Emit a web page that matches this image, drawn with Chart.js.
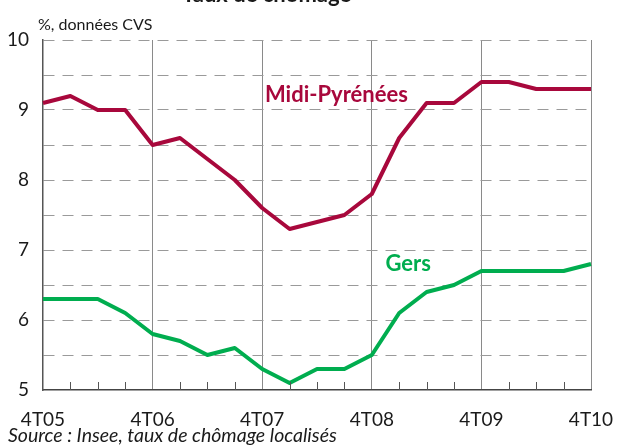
<!DOCTYPE html>
<html>
<head>
<meta charset="utf-8">
<script src="https://cdn.jsdelivr.net/npm/chart.js@4"></script>
<style>
  body { margin: 0; background: #fff; }
  #wrap { position: relative; width: 619px; height: 447px; overflow: hidden; font-family: Lato, "Open Sans", sans-serif; color: #1a1a1a; }
  #chart { position: absolute; left: 0; top: 0; }
  .txt { position: absolute; white-space: nowrap; }
  #title { left: 182px; top: -18px; font-size: 22px; font-weight: bold; line-height: 24px; }
  #unit { left: 38px; top: 14px; font-size: 16px; line-height: 20px; }
  #source { left: 8px; top: 424px; font-size: 19.5px; font-style: italic; line-height: 22px; }
</style>
</head>
<body>
<div id="wrap">
  <canvas id="chart" width="619" height="447"></canvas>
  <div class="txt" id="title">Taux de chômage</div>
  <div class="txt" id="unit">%, données CVS</div>
  <div class="txt" id="source">Source : Insee, taux de chômage localisés</div>
</div>
<script>
const quarters = [
  '4T05', '1T06', '2T06', '3T06',
  '4T06', '1T07', '2T07', '3T07',
  '4T07', '1T08', '2T08', '3T08',
  '4T08', '1T09', '2T09', '3T09',
  '4T09', '1T10', '2T10', '3T10',
  '4T10'
];
const midiPyrenees = [9.1, 9.2, 9.0, 9.0, 8.5, 8.6, 8.3, 8.0, 7.6, 7.3, 7.4, 7.5, 7.8, 8.6, 9.1, 9.1, 9.4, 9.4, 9.3, 9.3, 9.3];
const gers = [6.3, 6.3, 6.3, 6.1, 5.8, 5.7, 5.5, 5.6, 5.3, 5.1, 5.3, 5.3, 5.5, 6.1, 6.4, 6.5, 6.7, 6.7, 6.7, 6.7, 6.8];
const yTicks = [5, 6, 7, 8, 9, 10];

const RED = '#a8083c';
const GREEN = '#00ad4f';
const FONT = 'Lato, "Open Sans", sans-serif';

// small quarter ticks standing up from the x axis, plus the series names
const extras = {
  id: 'extras',
  afterDatasetsDraw(chart) {
    const { ctx, scales: { x, y } } = chart;
    ctx.save();
    ctx.strokeStyle = '#555';
    ctx.lineWidth = 1;
    quarters.forEach((q, i) => {
      if (i % 4 === 0) return;
      const px = Math.round(x.getPixelForValue(i)) + 0.5;
      ctx.beginPath();
      ctx.moveTo(px, y.bottom);
      ctx.lineTo(px, y.bottom - 8);
      ctx.stroke();
    });
    ctx.font = 'bold 22px ' + FONT;
    ctx.textBaseline = 'alphabetic';
    ctx.fillStyle = RED;
    ctx.fillText('Midi-Pyrénées', x.getPixelForValue(8.1), y.getPixelForValue(9.12));
    ctx.fillStyle = GREEN;
    ctx.fillText('Gers', x.getPixelForValue(12.5), y.getPixelForValue(6.7));
    ctx.restore();
  }
};

new Chart(document.getElementById('chart'), {
  type: 'line',
  data: {
    labels: quarters,
    datasets: [
      { label: 'Midi-Pyrénées', data: midiPyrenees, borderColor: RED, borderWidth: 4, pointRadius: 0, tension: 0, borderJoinStyle: 'round' },
      { label: 'Gers', data: gers, borderColor: GREEN, borderWidth: 4, pointRadius: 0, tension: 0, borderJoinStyle: 'round' }
    ]
  },
  options: {
    responsive: false,
    animation: false,
    layout: { padding: { left: 0, right: 28, top: 40, bottom: 0 } },
    plugins: { legend: { display: false }, tooltip: { enabled: false } },
    scales: {
      x: {
        offset: false,
        afterFit: s => { s.height = 57; s.paddingLeft = 0; s.paddingRight = 0; },
        border: { color: '#444', width: 1.5 },
        grid: {
          drawTicks: false,
          color: c => (c.index % 4 === 0 && c.index > 0) ? '#8a8a8a' : 'rgba(0,0,0,0)',
          lineWidth: 1
        },
        ticks: {
          autoSkip: false,
          maxRotation: 0,
          padding: 18,
          color: '#1a1a1a',
          font: { family: FONT, size: 19 },
          callback: (v, i) => (i % 4 === 0 ? quarters[i] : '')
        }
      },
      y: {
        min: 5,
        max: 10,
        afterFit: s => { s.width = 43; },
        afterBuildTicks: s => {
          const t = [];
          for (let v = 5; v <= 10.001; v += 0.5) t.push({ value: Math.round(v * 10) / 10 });
          s.ticks = t;
        },
        border: { color: '#555', width: 1.5, dash: [11, 8] },
        grid: {
          drawTicks: false,
          color: c => (c.tick.value === 5 ? 'rgba(0,0,0,0)' : '#9a9a9a'),
          lineWidth: 1
        },
        ticks: {
          padding: 14,
          color: '#1a1a1a',
          font: { family: FONT, size: 19 },
          callback: v => (yTicks.includes(v) ? String(v) : '')
        }
      }
    }
  },
  plugins: [extras]
});
</script>
</body>
</html>
